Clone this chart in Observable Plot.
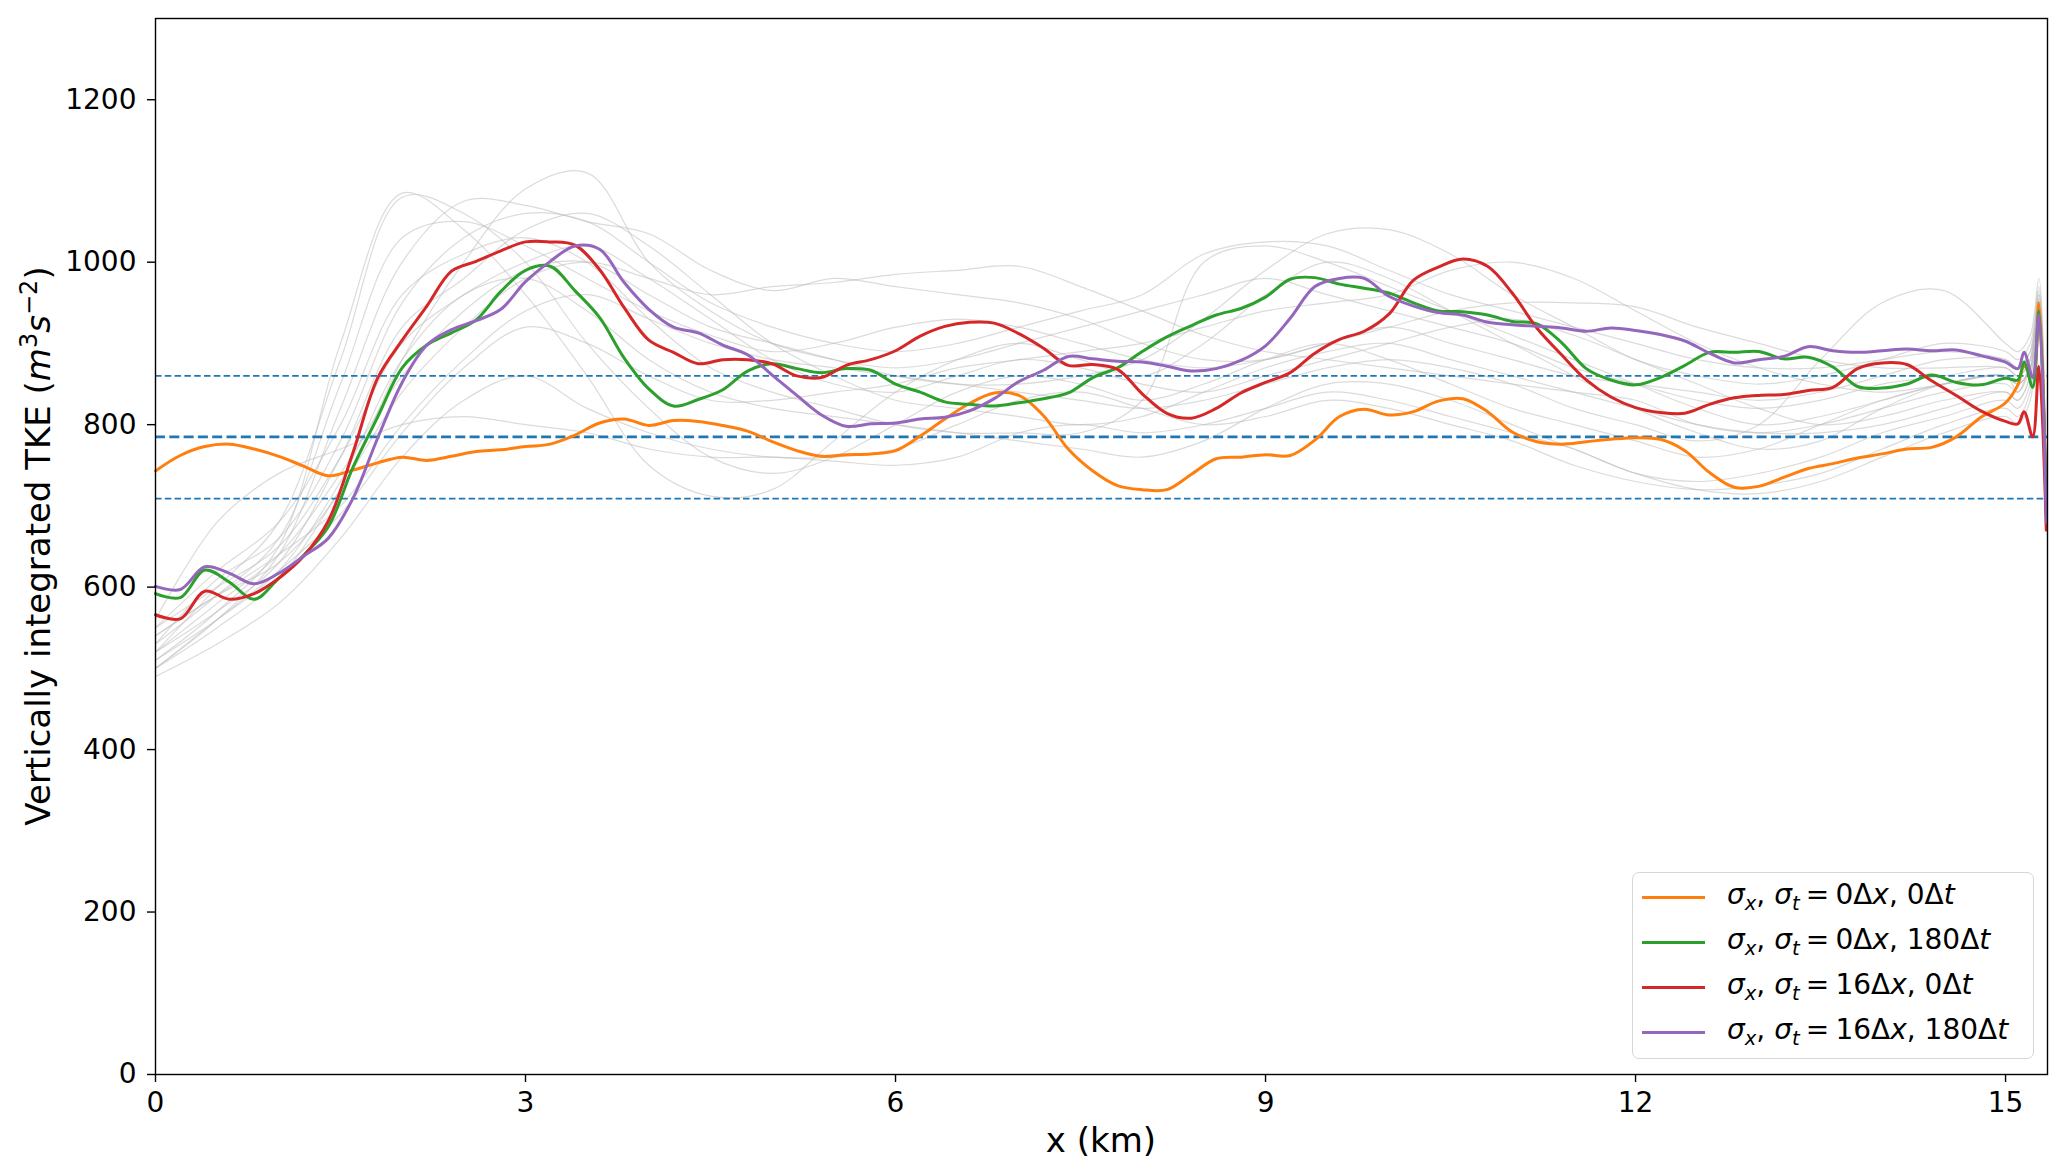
<!DOCTYPE html>
<html><head><meta charset="utf-8">
<script src="https://cdn.jsdelivr.net/npm/d3@7"></script>
<script src="https://cdn.jsdelivr.net/npm/@observablehq/plot@0.6"></script>
<style>
body{margin:0;background:#fff;}
#wrap{position:relative;width:2067px;height:1175px;font-family:"DejaVu Sans",sans-serif;}
#legend{position:absolute;left:1632px;top:872px;width:402px;height:187px;box-sizing:border-box;border:1.5px solid #d6d6d6;border-radius:7px;background:rgba(255,255,255,0.85);}
.sw{position:absolute;left:9px;width:63px;height:3px;}
.lab{position:absolute;left:94px;font-size:28px;line-height:30px;white-space:nowrap;color:#000;}
.lab sub{font-size:0.7em;vertical-align:-0.3em;line-height:0;}
.lab .eq{margin:0 0.22em;}
</style>
</head><body><div id="wrap"></div>
<script>
// ---------- data ----------
const xKm = [0,0.2,0.4,0.6,0.8,1.0,1.2,1.4,1.6,1.8,2.0,2.2,2.4,2.6,2.8,3.0,3.2,3.4,3.6,3.8,4.0,4.2,4.4,4.6,4.8,5.0,5.2,5.4,5.6,5.8,6.0,6.2,6.4,6.6,6.8,7.0,7.2,7.4,7.6,7.8,8.0,8.2,8.4,8.6,8.8,9.0,9.2,9.4,9.6,9.8,10.0,10.2,10.4,10.6,10.8,11.0,11.2,11.4,11.6,11.8,12.0,12.2,12.4,12.6,12.8,13.0,13.2,13.4,13.6,13.8,14.0,14.2,14.4,14.6,14.8,15.0,15.1,15.15,15.22,15.27,15.33];

const tkeOrange = [743,762,773,776,770,761,749,737,744,753,760,756,761,767,769,773,776,787,802,807,799,805,804,799,792,779,768,761,763,764,768,786,807,826,839,836,811,770,743,725,720,720,739,758,760,763,762,781,810,819,812,816,829,832,816,791,779,776,779,782,784,782,768,741,723,724,735,746,752,759,764,770,772,785,809,827,849,872,860,950,700];
const tkeGreen = [592,587,621,606,585,611,639,674,747,809,870,898,913,929,964,990,995,965,932,882,844,823,831,843,866,875,869,864,869,867,850,840,828,825,823,827,832,839,858,870,890,908,922,935,943,957,979,981,973,968,962,950,940,939,935,927,924,901,869,855,849,858,873,889,889,890,881,883,871,847,845,850,861,852,849,857,855,877,846,940,690];
const tkeRed = [566,561,595,585,592,611,638,681,765,857,904,946,989,1001,1014,1025,1025,1021,991,944,904,889,875,880,880,875,860,858,873,880,891,909,921,926,925,912,894,873,874,868,838,814,808,820,839,852,864,888,905,915,936,978,994,1004,995,962,919,886,855,834,821,815,814,825,833,836,837,842,846,869,876,874,854,836,817,804,801,816,785,872,670];
const tkePurple = [601,597,625,617,604,617,638,660,709,783,852,898,917,928,942,976,1001,1020,1016,975,942,920,913,898,886,861,836,812,798,801,802,807,809,817,832,853,867,884,881,878,877,872,866,869,879,897,931,970,980,980,958,946,938,935,926,923,921,919,915,919,916,911,903,888,876,880,884,896,891,889,891,893,891,892,885,877,869,889,858,936,680];

const seriesNames = ["σx,σt = 0Δx, 0Δt","σx,σt = 0Δx, 180Δt","σx,σt = 16Δx, 0Δt","σx,σt = 16Δx, 180Δt"];
const sigmaX = ["0","0","16","16"];
const sigmaT = ["0","180","0","180"];
const seriesColors = ["#ff7f0e","#2ca02c","#d62728","#9467bd"];

// ensemble members (grey)
const xGray = [0,0.5,1,1.5,2,2.5,3,3.5,4,4.5,5,5.5,6,6.5,7,7.5,8,8.5,9,9.5,10,10.5,11,11.5,12,12.5,13,13.5,14,14.5,15,15.1,15.2,15.27,15.33];
const gray1  = [520,600,680,880,1080,1060,1000,900,820,760,740,760,800,840,860,850,830,850,880,900,880,850,820,800,780,760,770,800,830,850,860,840,880,950,700];
const gray2  = [500,560,640,820,1000,1075,1070,1050,1035,990,965,980,970,960,950,930,900,880,880,900,920,900,880,860,850,840,830,840,860,880,880,870,890,960,700];
const gray3  = [540,590,630,720,880,1000,1090,1110,1000,940,900,880,870,880,900,920,940,960,980,960,940,920,900,870,850,830,820,830,850,860,870,860,880,955,700];
const gray4  = [560,680,740,770,800,810,800,790,770,760,760,755,750,760,790,800,790,800,820,840,830,810,790,770,740,730,740,760,790,810,830,820,850,940,690];
const gray5  = [510,570,650,900,1085,1040,960,860,750,712,720,780,840,880,900,880,860,900,960,1000,980,940,900,860,820,790,770,780,820,850,860,850,870,950,700];
const gray6  = [530,610,660,780,950,1030,1060,1050,1000,950,920,900,890,900,920,940,960,1010,1025,1020,990,960,940,920,900,880,870,870,880,890,880,870,890,965,700];
const gray7  = [550,600,650,760,900,960,1000,1020,980,930,880,850,840,860,880,870,850,840,860,880,900,920,930,910,880,850,820,800,810,830,840,830,860,945,690];
const gray8  = [520,580,640,740,860,940,990,1000,960,920,900,880,860,850,850,860,880,930,990,1035,1040,1010,960,920,880,860,850,860,880,900,890,880,900,970,700];
const gray9  = [500,550,610,720,840,920,980,1000,980,960,970,975,985,990,995,970,940,910,890,880,870,860,850,840,830,800,790,800,820,840,850,840,870,950,700];
const gray10 = [490,530,580,660,760,830,860,820,790,770,760,760,770,800,830,840,820,800,810,830,820,800,780,750,730,720,725,740,770,800,820,810,840,935,690];
const gray11 = [540,590,640,700,800,880,940,960,930,900,880,870,860,850,840,830,820,830,850,870,880,870,850,820,800,780,800,880,950,965,900,890,910,980,700];
const gray12 = [510,560,620,730,880,960,980,940,880,840,820,810,800,790,780,770,760,780,820,850,850,830,800,770,740,720,715,730,760,790,810,800,830,930,690];
const gray13 = [530,590,660,850,1030,1050,1020,980,940,910,890,900,920,930,920,900,880,870,880,900,920,940,950,950,945,920,900,880,870,870,870,860,880,960,700];
const gray14 = [520,570,630,760,920,980,1040,1060,1020,960,900,860,830,820,810,800,810,840,870,890,900,880,860,840,820,800,790,790,800,820,840,830,860,945,690];
const gray15 = [550,620,680,800,960,1010,1030,1000,930,870,840,820,800,790,790,790,830,1000,1020,1000,970,940,910,880,850,820,800,810,830,850,860,850,870,955,700];
const gray16 = [500,560,620,690,790,870,920,900,860,830,830,840,850,870,880,890,900,920,940,950,960,990,1000,980,940,900,870,850,840,850,860,850,870,950,700];

const hMean = 785, hUpper = 860, hLower = 709;
const xTicks = [0,3,6,9,12,15];
const yTicks = [0,200,400,600,800,1000,1200];

// ---------- tables ----------
const grays = [gray1,gray2,gray3,gray4,gray5,gray6,gray7,gray8,gray9,gray10,gray11,gray12,gray13,gray14,gray15,gray16];
const grayRows = grays.flatMap((arr, i) => arr.map((y, j) => ({id: i, x: xGray[j], y})));
const series = [tkeOrange, tkeGreen, tkeRed, tkePurple];
const seriesRows = series.map(arr => arr.map((y, j) => ({x: xKm[j], y})));

const chart = Plot.plot({
  width: 2067, height: 1175,
  marginLeft: 155, marginRight: 20, marginTop: 18, marginBottom: 101,
  style: {fontFamily: "DejaVu Sans", fontSize: "28px", color: "black", background: "white"},
  x: {domain: [0, 15.34]},
  y: {domain: [0, 1300]},
  marks: [
    Plot.line(grayRows, {x: "x", y: "y", z: "id", stroke: "#bdbdbd", strokeOpacity: 0.55, strokeWidth: 1.2, curve: "catmull-rom"}),
    Plot.ruleY([hUpper, hLower], {stroke: "#1f77b4", strokeWidth: 1.7, strokeDasharray: "6.5,3.3"}),
    Plot.ruleY([hMean], {stroke: "#1f77b4", strokeWidth: 2.6, strokeDasharray: "10,4.3"}),
    ...seriesRows.map((rows, i) => Plot.line(rows, {x: "x", y: "y", stroke: seriesColors[i], strokeWidth: 3, curve: "catmull-rom"})),
    Plot.frame({stroke: "black", strokeWidth: 1.4}),
    Plot.axisX({ticks: xTicks, tickSize: 8, tickPadding: 10, label: null, tickFormat: d => String(d), strokeWidth: 1.4}),
    Plot.axisY({ticks: yTicks, tickSize: 8, tickPadding: 11, label: null, tickFormat: d => String(d), strokeWidth: 1.4})
  ]
});

const wrap = document.getElementById("wrap");
wrap.appendChild(chart);

// axis titles
const svg = d3.select(chart);
svg.append("text").attr("x", 1101).attr("y", 1152).attr("text-anchor", "middle")
  .attr("font-size", 34).attr("fill", "black").text("x (km)");
const yl = svg.append("text").attr("transform", "translate(50,546) rotate(-90)")
  .attr("text-anchor", "middle").attr("font-size", 34).attr("fill", "black");
yl.append("tspan").text("Vertically integrated TKE (");
yl.append("tspan").attr("font-style", "italic").text("m");
yl.append("tspan").attr("font-size", 24).attr("dy", -13).text("3");
yl.append("tspan").attr("font-style", "italic").attr("dy", 13).text("s");
yl.append("tspan").attr("font-size", 24).attr("dy", -13).text("−2");
yl.append("tspan").attr("dy", 13).text(")");

// legend (overlaid inside the axes, lower right)
const legend = document.createElement("div");
legend.id = "legend";
seriesNames.forEach((name, i) => {
  const cy = 24 + i * 45;
  const sw = document.createElement("div");
  sw.className = "sw";
  sw.style.top = (cy - 1.5) + "px";
  sw.style.background = seriesColors[i];
  legend.appendChild(sw);
  const lab = document.createElement("div");
  lab.className = "lab";
  lab.style.top = (cy - 17) + "px";
  lab.title = name;
  lab.innerHTML = `<i>σ</i><sub><i>x</i></sub>, <i>σ</i><sub><i>t</i></sub><span class="eq">=</span>${sigmaX[i]}Δ<i>x</i>, ${sigmaT[i]}Δ<i>t</i>`;
  legend.appendChild(lab);
});
wrap.appendChild(legend);
</script>
</body></html>
